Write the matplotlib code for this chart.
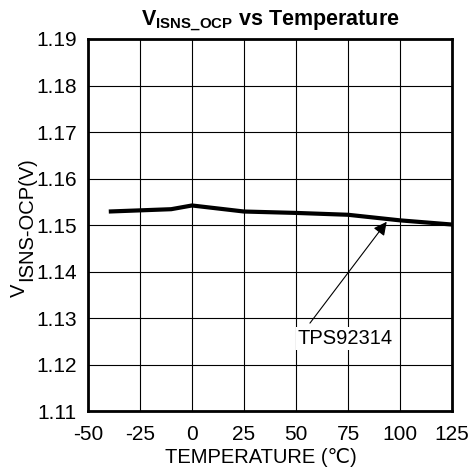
import matplotlib
matplotlib.use('Agg')
from matplotlib import pyplot as plt

plt.rcParams['font.family'] = ['Liberation Sans', 'DejaVu Sans']
plt.rcParams['mathtext.fontset'] = 'custom'
plt.rcParams['mathtext.rm'] = 'Liberation Sans'
plt.rcParams['mathtext.it'] = 'Liberation Sans'
plt.rcParams['mathtext.bf'] = 'Liberation Sans:bold'
plt.rcParams['axes.unicode_minus'] = False

temps = [-40, -10, 0, 25, 50, 75, 100, 125]
vocp = [1.1529, 1.1534, 1.1542, 1.1529, 1.1526, 1.1522, 1.1510, 1.1501]
xticks = [-50, -25, 0, 25, 50, 75, 100, 125]
yticks = [1.11, 1.12, 1.13, 1.14, 1.15, 1.16, 1.17, 1.18, 1.19]

fig = plt.figure(figsize=(4.69, 4.75), dpi=100)
ax = fig.add_axes([0.1876, 0.1347, 0.7762, 0.7832])

ax.plot(temps, vocp, color='black', linewidth=3, solid_capstyle='butt', zorder=3)
ax.set_xlim(-50, 125)
ax.set_ylim(1.11, 1.19)
ax.set_xticks(xticks)
ax.set_yticks(yticks)
ax.set_yticklabels(['%.2f' % v for v in yticks])
ax.grid(True, color='black', linewidth=0.8)
ax.tick_params(axis='y', length=0, labelsize=15, pad=8)
ax.tick_params(axis='x', length=0, labelsize=15, pad=10)
for s in ax.spines.values():
    s.set_linewidth(2)

# label box and arrow drawn separately so the arrow starts at the text's left part
ax.text(73.6, 1.1255, 'TPS92314', ha='center', va='center', fontsize=14.5,
        bbox=dict(boxstyle='square,pad=0.1', fc='white', ec='none'), zorder=4)
ax.annotate('', xy=(93.6, 1.1507), xytext=(56.7, 1.1289),
            arrowprops=dict(arrowstyle='-|>', color='black', lw=0.8,
                            mutation_scale=20, shrinkA=0, shrinkB=0),
            zorder=4)

ax.set_title(r'$\mathbf{V_{ISNS\_OCP}}$' + ' vs Temperature', fontsize=15.5,
             fontweight='bold', pad=9)
ax.set_xlabel('TEMPERATURE (℃)', fontsize=14.5, labelpad=5)
ax.xaxis.set_label_coords(0.475, -0.1)

# y label: "V" with a lowered "ISNS-OCP(V)"
fig.text(29 / 469, 1 - 297 / 475, 'V', rotation=90, fontsize=14.5,
         ha='right', va='bottom')
fig.text(36 / 469, 1 - 281 / 475, 'ISNS-OCP(V)', rotation=90, fontsize=14.5,
         ha='right', va='bottom')

fig.savefig('out.png', dpi=100)
